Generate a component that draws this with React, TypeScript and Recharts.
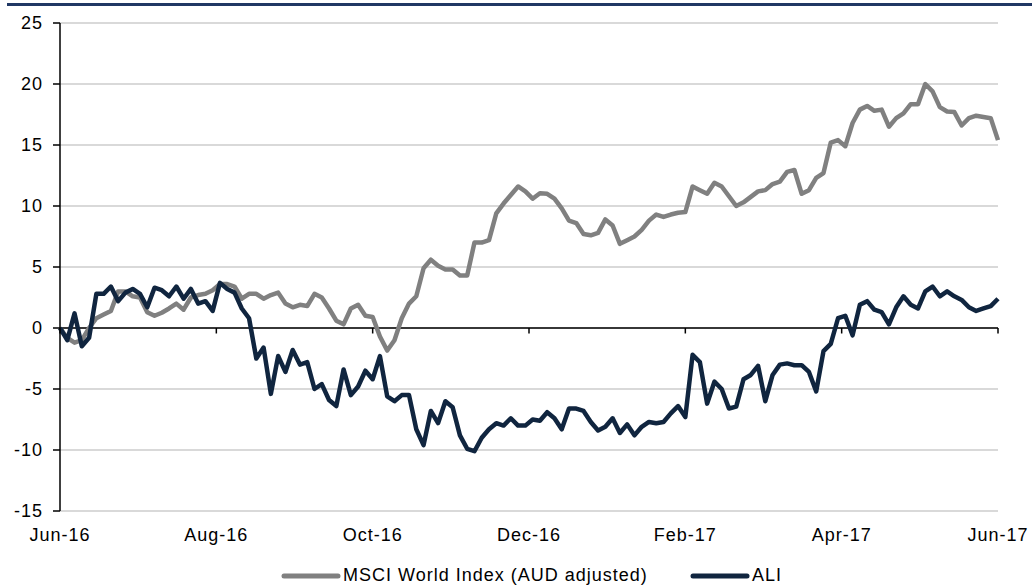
import React from "react";
import { LineChart, Line, XAxis, YAxis, CartesianGrid, ReferenceLine } from "recharts";

// sampled every 2nd trading day, Jun-16 .. Jun-17
const X_LABELS = ["Jun-16", "Aug-16", "Oct-16", "Dec-16", "Feb-17", "Apr-17", "Jun-17"];
const X_TICKS = [0, 43, 86, 129, 172, 215, 258];
const Y_TICKS = [-15, -10, -5, 0, 5, 10, 15, 20, 25];
const DAY_STEP = 2;

const MSCI = [
  0, -0.8, -1.2, -1.0, 0.0, 0.8, 1.1, 1.4, 3.0, 3.0,
  2.6, 2.5, 1.3, 1.0, 1.25, 1.6, 2.0, 1.5, 2.5, 2.7,
  2.8, 3.1, 3.6, 3.6, 3.4, 2.4, 2.8, 2.8, 2.4, 2.7,
  2.9, 2.0, 1.7, 1.9, 1.8, 2.8, 2.5, 1.6, 0.6, 0.3,
  1.6, 1.9, 1.0, 0.9, -0.7, -1.85, -1.0, 0.8, 2.0, 2.6,
  4.9, 5.6, 5.1, 4.8, 4.8, 4.3, 4.3, 7.0, 7.0, 7.2,
  9.4, 10.2, 10.9, 11.6, 11.2, 10.6, 11.05, 11.0, 10.6, 9.8,
  8.8, 8.6, 7.7, 7.6, 7.8, 8.9, 8.4, 6.9, 7.2, 7.5,
  8.05, 8.8, 9.3, 9.1, 9.3, 9.45, 9.5, 11.6, 11.3, 11.0,
  11.9, 11.6, 10.8, 10.0, 10.3, 10.75, 11.2, 11.3, 11.8, 12.0,
  12.8, 12.95, 11.0, 11.3, 12.3, 12.7, 15.2, 15.4, 14.9, 16.8,
  17.9, 18.2, 17.8, 17.9, 16.5, 17.2, 17.6, 18.35, 18.35, 20.0,
  19.4, 18.1, 17.75, 17.7, 16.6, 17.2, 17.4, 17.3, 17.2, 15.4,
];

const ALI = [
  0, -1.0, 1.2, -1.5, -0.8, 2.8, 2.8, 3.4, 2.2, 2.9,
  3.2, 2.8, 1.7, 3.3, 3.1, 2.6, 3.4, 2.4, 3.2, 2.0,
  2.2, 1.4, 3.7, 3.2, 2.9, 1.6, 0.8, -2.5, -1.6, -5.4,
  -2.3, -3.6, -1.8, -3.0, -2.8, -5.0, -4.6, -5.9, -6.4, -3.4,
  -5.5, -4.8, -3.5, -4.2, -2.3, -5.6, -6.0, -5.5, -5.5, -8.3,
  -9.6, -6.8, -7.8, -6.0, -6.5, -8.8, -9.9, -10.1, -9.0, -8.3,
  -7.8, -8.0, -7.4, -8.0, -8.0, -7.5, -7.6, -6.9, -7.4, -8.3,
  -6.6, -6.6, -6.8, -7.7, -8.4, -8.1, -7.4, -8.6, -7.9, -8.8,
  -8.1, -7.7, -7.8, -7.7, -7.0, -6.4, -7.3, -2.2, -2.8, -6.2,
  -4.4, -5.0, -6.6, -6.45, -4.2, -3.85, -3.1, -6.0, -3.85, -3.0,
  -2.9, -3.05, -3.05, -3.6, -5.2, -1.9, -1.3, 0.8, 1.0, -0.6,
  1.9, 2.2, 1.5, 1.3, 0.3, 1.7, 2.6, 1.9, 1.6, 3.0,
  3.4, 2.6, 3.0, 2.6, 2.3, 1.7, 1.4, 1.6, 1.8, 2.4,
];

const GREY = "#808080";
const NAVY = "#10253f";
const FONT = "'Liberation Sans', Arial, sans-serif";

const data = MSCI.map((v, i) => ({ d: i * DAY_STEP, msci: v, ali: ALI[i] }));

const tickStyle = { fontSize: 18, fill: "#000", fontFamily: FONT, letterSpacing: 1 };

function Swatch({ color }: { color: string }) {
  return (
    <svg width={60} height={10} style={{ display: "block" }}>
      <line x1={3} y1={5} x2={57} y2={5} stroke={color} strokeWidth={5} strokeLinecap="round" />
    </svg>
  );
}

export default function App() {
  return (
    <div style={{ position: "relative", width: 1032, height: 586, background: "#fff", overflow: "hidden" }}>
      <style>{"body{margin:0}"}</style>
      <div style={{ position: "absolute", left: 7, right: 0, top: 3, height: 3, background: "#203864" }} />
      <LineChart width={1032} height={586} data={data} margin={{ top: 23, right: 34, bottom: 45, left: 0 }}>
        <CartesianGrid vertical={false} stroke="#d9d9d9" strokeWidth={2} />
        <XAxis
          dataKey="d"
          type="number"
          domain={[0, 258]}
          ticks={X_TICKS}
          tickFormatter={(v) => X_LABELS[X_TICKS.indexOf(v)]}
          axisLine={false}
          tickLine={false}
          tickSize={0}
          tickMargin={17}
          height={30}
          tick={tickStyle}
          interval={0}
        />
        <YAxis
          domain={[-15, 25]}
          ticks={Y_TICKS}
          width={60}
          axisLine={{ stroke: "#000", strokeWidth: 1.5 }}
          tickLine={{ stroke: "#000", strokeWidth: 1.5 }}
          tickSize={7}
          tickMargin={10}
          tick={tickStyle}
          interval={0}
        />
        <ReferenceLine y={0} stroke="#000" strokeWidth={1.5} />
        {X_TICKS.map((t) => (
          <ReferenceLine key={t} segment={[{ x: t, y: 0 }, { x: t, y: -0.45 }]} stroke="#000" strokeWidth={1.5} />
        ))}
        <Line dataKey="msci" stroke={GREY} strokeWidth={4.5} dot={false} isAnimationActive={false} strokeLinejoin="round" />
        <Line dataKey="ali" stroke={NAVY} strokeWidth={4.5} dot={false} isAnimationActive={false} strokeLinejoin="round" />
      </LineChart>
      <div style={{ position: "absolute", left: 281, top: 571 }}><Swatch color={GREY} /></div>
      <div style={{ position: "absolute", left: 343, top: 564, fontFamily: FONT, fontSize: 18, letterSpacing: 1, lineHeight: "22px", color: "#000", whiteSpace: "nowrap" }}>
        MSCI World Index (AUD adjusted)
      </div>
      <div style={{ position: "absolute", left: 690, top: 571 }}><Swatch color={NAVY} /></div>
      <div style={{ position: "absolute", left: 752, top: 564, fontFamily: FONT, fontSize: 18, letterSpacing: 1, lineHeight: "22px", color: "#000", whiteSpace: "nowrap" }}>
        ALI
      </div>
    </div>
  );
}
